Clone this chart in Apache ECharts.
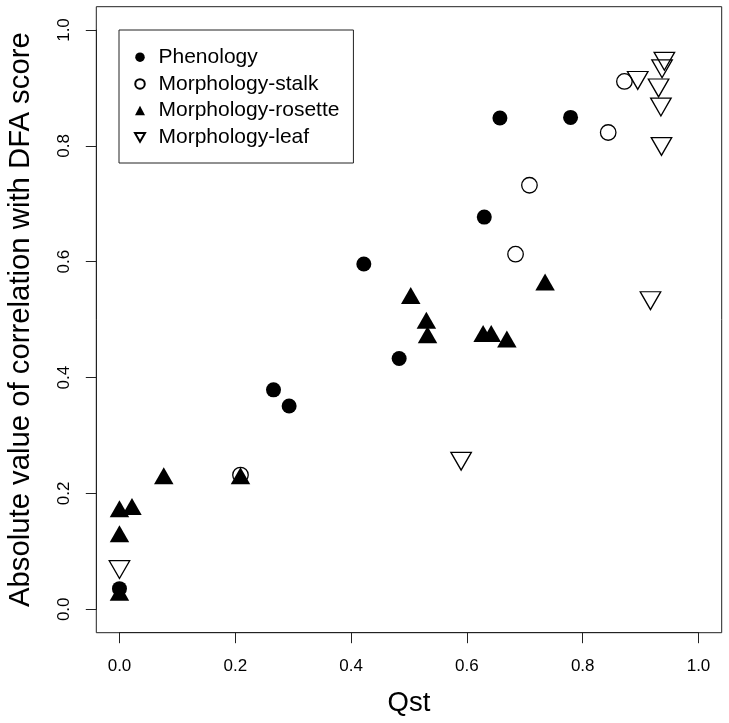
<!DOCTYPE html>
<html>
<head>
<meta charset="utf-8">
<script src="https://cdn.jsdelivr.net/npm/echarts@6/dist/echarts.min.js"></script>
<style>
  html, body { margin: 0; padding: 0; background: #fff; }
  #chart { width: 729px; height: 723px; }
</style>
</head>
<body>
<div id="chart"></div>
<script>
// ---- data ----
const phenoX = [0.657, 0.779, 0.630, 0.422, 0.483, 0.266, 0.293, 0.0];
const phenoY = [0.848, 0.849, 0.677, 0.596, 0.433, 0.379, 0.351, 0.036];

const stalkX = [0.872, 0.844, 0.708, 0.684, 0.209];
const stalkY = [0.911, 0.823, 0.732, 0.613, 0.232];

const rosetteX = [0.503, 0.530, 0.532, 0.628, 0.642, 0.669, 0.735, 0.0765, 0.209, 0.0, 0.0216, 0.0, 0.0];
const rosetteY = [0.537, 0.494, 0.469, 0.4715, 0.4715, 0.462, 0.560, 0.226, 0.226, 0.169, 0.173, 0.126, 0.025];

const leafX = [0.941, 0.937, 0.895, 0.931, 0.935, 0.936, 0.917, 0.590, 0.0];
const leafY = [0.951, 0.938, 0.918, 0.905, 0.872, 0.804, 0.538, 0.261, 0.074];

const seriesNames = ['Phenology', 'Morphology-stalk', 'Morphology-rosette', 'Morphology-leaf'];
const xTitle = 'Qst';
const yTitle = 'Absolute value of correlation with DFA score';
const axisMin = 0, axisMax = 1, axisStep = 0.2;
const padFrac = 0.04;

function pairs(xs, ys) { return xs.map((x, i) => [x, ys[i]]); }

const FONT = '"Liberation Sans", Arial, Helvetica, sans-serif';
const TRI_UP = [19.5, 17];
const TRI_DN = [20.5, 17.8];
const DOWN_PATH = 'path://M0,0 L2,0 L1,1.732 Z';

const chart = echarts.init(document.getElementById('chart'), null, { renderer: 'canvas' });

const option = {
  backgroundColor: '#fff',
  animation: false,
  textStyle: { fontFamily: FONT },
  grid: [
    { // data box
      left: 96.3, top: 6.7, right: 729 - 721.7, bottom: 723 - 632.7,
      show: true, borderColor: '#222', borderWidth: 1, backgroundColor: 'transparent',
      containLabel: false, outerBoundsMode: 'none'
    },
    { // tick range (0..1) for R-style axes
      left: 119.5, top: 30, right: 729 - 698.5, bottom: 723 - 609.3,
      show: false, containLabel: false, outerBoundsMode: 'none'
    }
  ],
  xAxis: [
    {
      gridIndex: 0, type: 'value',
      min: axisMin - padFrac * (axisMax - axisMin), max: axisMax + padFrac * (axisMax - axisMin),
      show: false
    },
    {
      gridIndex: 1, type: 'value', min: axisMin, max: axisMax, interval: axisStep,
      position: 'bottom', offset: 23.4,
      axisLine: { show: true, onZero: false, lineStyle: { color: '#222', width: 1 } },
      axisTick: { show: true, inside: false, length: 10.5, lineStyle: { color: '#222', width: 1 } },
      axisLabel: {
        show: true, margin: 25, fontSize: 17, color: '#000', fontFamily: FONT,
        formatter: v => v.toFixed(1), showMinLabel: true, showMaxLabel: true, hideOverlap: false
      },
      splitLine: { show: false },
      name: xTitle, nameLocation: 'middle', nameGap: 57,
      nameTextStyle: { fontSize: 27.5, color: '#000', fontFamily: FONT }
    }
  ],
  yAxis: [
    {
      gridIndex: 0, type: 'value',
      min: axisMin - padFrac * (axisMax - axisMin), max: axisMax + padFrac * (axisMax - axisMin),
      show: false
    },
    {
      gridIndex: 1, type: 'value', min: axisMin, max: axisMax, interval: axisStep,
      position: 'left', offset: 23.2,
      axisLine: { show: true, onZero: false, lineStyle: { color: '#222', width: 1 } },
      axisTick: { show: true, inside: false, length: 10.5, lineStyle: { color: '#222', width: 1 } },
      axisLabel: {
        show: true, margin: 23, fontSize: 17, color: '#000', rotate: 90, fontFamily: FONT,
        formatter: v => v.toFixed(1), showMinLabel: true, showMaxLabel: true, hideOverlap: false
      },
      splitLine: { show: false },
      name: yTitle, nameLocation: 'middle', nameGap: 61,
      nameTextStyle: { fontSize: 29.3, color: '#000', fontFamily: FONT }
    }
  ],
  legend: {
    show: true, orient: 'vertical', left: 119, top: 30,
    data: [
      { name: seriesNames[0], icon: 'circle' },
      { name: seriesNames[1], icon: 'circle' },
      { name: seriesNames[2], icon: 'triangle' },
      { name: seriesNames[3], icon: DOWN_PATH }
    ],
    backgroundColor: '#fff',
    borderColor: '#222', borderWidth: 1, borderRadius: 0,
    padding: [16.7, 14, 15.2, 15],
    itemWidth: 10, itemHeight: 9.5, itemGap: 5.7,
    selectedMode: false,
    textStyle: { fontSize: 21, color: '#000', lineHeight: 20, fontFamily: FONT, padding: [0, 0, 0, 8.5] }
  },
  series: [
    {
      name: seriesNames[0], type: 'scatter', xAxisIndex: 0, yAxisIndex: 0,
      data: pairs(phenoX, phenoY),
      symbol: 'circle', symbolSize: 15,
      itemStyle: { color: '#000', borderWidth: 0, opacity: 1 },
      z: 3
    },
    {
      name: seriesNames[1], type: 'scatter', xAxisIndex: 0, yAxisIndex: 0,
      data: pairs(stalkX, stalkY),
      symbol: 'circle', symbolSize: 15.5,
      itemStyle: { color: 'rgba(255,255,255,0)', borderColor: '#000', borderWidth: 1.3, opacity: 1 },
      z: 3
    },
    {
      name: seriesNames[2], type: 'scatter', xAxisIndex: 0, yAxisIndex: 0,
      data: pairs(rosetteX, rosetteY),
      // R draws the triangle around its centroid; shift the ECharts bounding box up by h/6
      symbol: 'triangle', symbolSize: TRI_UP, symbolOffset: [0, -TRI_UP[1] / 6],
      itemStyle: { color: '#000', borderWidth: 0, opacity: 1 },
      z: 3
    },
    {
      name: seriesNames[3], type: 'scatter', xAxisIndex: 0, yAxisIndex: 0,
      data: pairs(leafX, leafY),
      symbol: DOWN_PATH, symbolSize: TRI_DN, symbolOffset: [0, TRI_DN[1] / 6],
      itemStyle: { color: 'rgba(255,255,255,0)', borderColor: '#000', borderWidth: 1.3, opacity: 1 },
      z: 3
    }
  ]
};

chart.setOption(option);
</script>
</body>
</html>
